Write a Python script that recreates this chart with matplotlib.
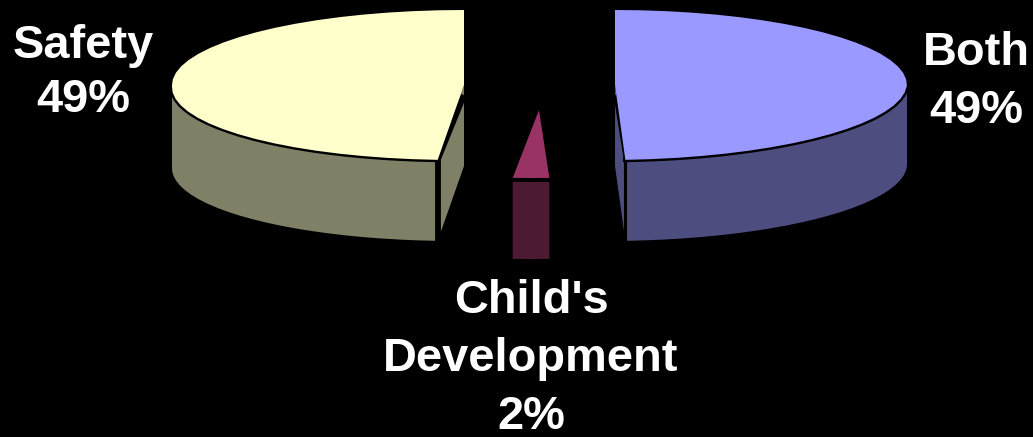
import numpy as np
import matplotlib
matplotlib.use('Agg')
import matplotlib.pyplot as plt
from matplotlib.patches import Polygon

plt.rcParams['font.family'] = ['Liberation Sans', 'DejaVu Sans']

# Data
slice_names = ['Both', "Child's\nDevelopment", 'Safety']
slice_percent = [49, 2, 49]
percent_labels = ['49%', '2%', '49%']

# Colours
top_colors = ['#9999FF', '#993366', '#FFFFCC']
side_colors = ['#4D4D80', '#4D1A33', '#808066']

# Geometry of the exploded pie, in pixels
centers = [(615, 85), (539, 110), (464, 85)]
radius_x = 292
radius_y = [75, 68, 75]
depth = [81, 81, 81]
shear = 8
top_limit = 9
edge_width = [2.2, 0, 4.2]


def rim(cx, cy, ry, t):
    # point on the projected rim, angle clockwise from 12 o'clock
    x = cx + radius_x * np.sin(t) - shear * np.maximum(-np.cos(t), 0)
    y = cy - ry * np.cos(t)
    return x, np.maximum(y, top_limit)


fig = plt.figure(figsize=(10.33, 4.37), dpi=100, facecolor='black')
ax = fig.add_axes([0, 0, 1, 1])
ax.set_xlim(0, 1033)
ax.set_ylim(437, 0)
ax.axis('off')

start = 0.0
for i, value in enumerate(slice_percent):
    end = start + value / 100 * 2 * np.pi
    cx, cy = centers[i]
    t = np.linspace(start, end, 36)
    x, y = rim(cx, cy, radius_y[i], t)

    # Cut face, from the apex to the front corner
    front = -1 if i == 0 else 0
    corner_x, corner_y = x[front], y[front]
    if i != 1:
        face = [(cx, cy), (corner_x, corner_y),
                (corner_x, corner_y + depth[i]), (cx, cy + depth[i])]
        ax.add_patch(Polygon(face, closed=True, fc=side_colors[i], ec='none', zorder=1))

    # Outer wall, only the part turned to the viewer
    lo, hi = max(start, np.pi / 2), min(end, 3 * np.pi / 2)
    tw = np.linspace(lo, hi, 24)
    xw, yw = rim(cx, cy, radius_y[i], tw)
    wall_depth = depth[i]
    if i == 1:
        # the small slice has its wall split from the top by a gap
        yw = yw + 4
        wall_depth = depth[i] - 4
    wall = np.concatenate([np.column_stack([xw, yw]),
                           np.column_stack([xw, yw + wall_depth])[::-1]])
    ax.add_patch(Polygon(wall, closed=True, fc=side_colors[i], ec='none', zorder=2))

    # Black edges round the top
    if edge_width[i] > 0:
        ax.plot(xw, yw, color='black', lw=3.4, zorder=3)
        ax.plot([cx, corner_x], [cy + 10, corner_y], color='black', lw=edge_width[i], zorder=3,
                solid_capstyle='butt')
        ax.plot([corner_x, corner_x], [corner_y, corner_y + depth[i]], color='black',
                lw=edge_width[i], zorder=3, solid_capstyle='butt')

    # Top surface
    top = np.vstack([[(cx, cy)], np.column_stack([x, y])])
    ax.add_patch(Polygon(top, closed=True, fc=top_colors[i], ec='none', zorder=4))

    start = end

# Labels
label_pos = [(976, 82), (531, 359), (83, 73)]
label_spacing = [1.42, 1.42, 1.3]
for i in range(3):
    ax.text(label_pos[i][0], label_pos[i][1], slice_names[i] + '\n' + percent_labels[i],
            color='white', fontsize=33.8, fontweight='bold', ha='center', va='center',
            linespacing=label_spacing[i], zorder=5)

fig.savefig('out.png', dpi=100, facecolor='black')
